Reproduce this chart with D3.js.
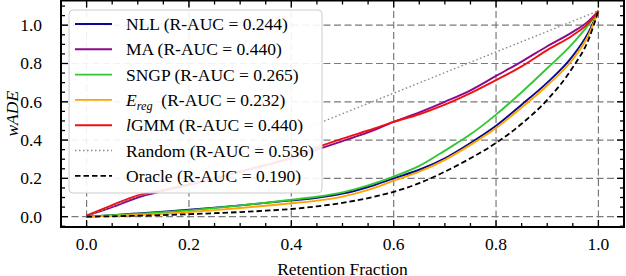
<!DOCTYPE html>
<html><head><meta charset="utf-8">
<script src="https://cdn.jsdelivr.net/npm/d3@7"></script>
</head>
<body style="margin:0;background:#fff">
<svg id="c" width="626" height="276" style="display:block"></svg>
<script>
const retention = [0,0.05,0.1,0.15,0.2,0.25,0.3,0.35,0.4,0.45,0.5,0.55,0.6,0.65,0.7,0.75,0.8,0.85,0.9,0.95,0.98,1.0];
const nll   = [0,0.008,0.017,0.026,0.036,0.047,0.059,0.072,0.085,0.099,0.12,0.155,0.2,0.245,0.305,0.385,0.475,0.585,0.7,0.84,0.96,1.075];
const ma    = [0.005,0.05,0.1,0.135,0.165,0.2,0.235,0.27,0.305,0.35,0.395,0.44,0.495,0.545,0.6,0.66,0.735,0.81,0.89,0.965,1.02,1.075];
const sngp  = [0,0.007,0.015,0.023,0.033,0.045,0.059,0.073,0.088,0.104,0.127,0.163,0.209,0.265,0.345,0.43,0.533,0.65,0.775,0.905,1.0,1.075];
const ereg  = [0,0.004,0.009,0.015,0.024,0.034,0.045,0.057,0.07,0.084,0.105,0.14,0.188,0.235,0.297,0.375,0.463,0.57,0.685,0.822,0.945,1.075];
const lgmm  = [0.005,0.06,0.111,0.14,0.17,0.2,0.235,0.27,0.31,0.362,0.408,0.45,0.495,0.535,0.585,0.645,0.713,0.785,0.87,0.948,1.01,1.075];
const randomX = [0,1];
const randomY = [0,1.075];
const oracle = [0,0.002,0.005,0.008,0.013,0.018,0.024,0.031,0.04,0.054,0.072,0.097,0.13,0.175,0.235,0.305,0.385,0.485,0.61,0.78,0.92,1.075];
const xTicks = [0,0.2,0.4,0.6,0.8,1.0];
const yTicks = [0,0.2,0.4,0.6,0.8,1.0];
const labels = ["NLL (R-AUC = 0.244)","MA (R-AUC = 0.440)","SNGP (R-AUC = 0.265)","E_reg (R-AUC = 0.232)","lGMM (R-AUC = 0.440)","Random (R-AUC = 0.536)","Oracle (R-AUC = 0.190)"];
const colors = ["#0a0a8c","#8b0a8b","#34c734","#ffa500","#f01010","#888888","#000000"];

const FONT = "Liberation Serif";
const svg = d3.select("#c");
const L=61, R=624, T=0.5, B=227;
const x = d3.scaleLinear().domain([-0.05,1.05]).range([L,R]);
const y = d3.scaleLinear().domain([-0.054,1.129]).range([B,T]);
const FS = 17.5;

svg.append("defs").append("clipPath").attr("id","clip").append("rect")
  .attr("x",L).attr("y",T).attr("width",R-L).attr("height",B-T);

const grid = svg.append("g").attr("stroke","#7a7a7a").attr("stroke-width",1.2).attr("stroke-dasharray","7,3.5");
xTicks.forEach(t=>grid.append("line").attr("x1",x(t)).attr("x2",x(t)).attr("y1",T).attr("y2",B));
yTicks.forEach(t=>grid.append("line").attr("y1",y(t)).attr("y2",y(t)).attr("x1",L).attr("x2",R));

const series = [
  {xs:retention, ys:nll, c:colors[0], dash:null, w:1.9},
  {xs:retention, ys:ma, c:colors[1], dash:null, w:1.9},
  {xs:retention, ys:sngp, c:colors[2], dash:null, w:1.9},
  {xs:retention, ys:ereg, c:colors[3], dash:null, w:1.9},
  {xs:retention, ys:lgmm, c:colors[4], dash:null, w:1.9},
  {xs:randomX, ys:randomY, c:colors[5], dash:"1.5,2.5", w:1.4},
  {xs:retention, ys:oracle, c:colors[6], dash:"5.5,3", w:1.8}
];
const line = d3.line().x(d=>x(d[0])).y(d=>y(d[1])).curve(d3.curveMonotoneX);
const pg = svg.append("g").attr("clip-path","url(#clip)");
series.forEach(s=>{
  pg.append("path").datum(s.xs.map((v,i)=>[v,s.ys[i]]))
    .attr("d",line).attr("fill","none").attr("stroke",s.c)
    .attr("stroke-width",s.w).attr("stroke-dasharray",s.dash);
});

const minor = d3.range(-0.05,1.0501,0.05).map(v=>+v.toFixed(2));
const yMinor = d3.range(-0.05,1.1301,0.05).map(v=>+v.toFixed(2)).filter(v=>v>=-0.054&&v<=1.129);
const tk = svg.append("g").attr("stroke","#000").attr("stroke-width",1.3);
minor.forEach(v=>{
  const isMaj = xTicks.some(t=>Math.abs(t-v)<1e-6);
  const len = isMaj?7:4;
  tk.append("line").attr("x1",x(v)).attr("x2",x(v)).attr("y1",B).attr("y2",B-len);
  tk.append("line").attr("x1",x(v)).attr("x2",x(v)).attr("y1",T).attr("y2",T+len);
});
yMinor.forEach(v=>{
  const isMaj = yTicks.some(t=>Math.abs(t-v)<1e-6);
  const len = isMaj?7:4;
  tk.append("line").attr("y1",y(v)).attr("y2",y(v)).attr("x1",L).attr("x2",L+len);
  tk.append("line").attr("y1",y(v)).attr("y2",y(v)).attr("x1",R).attr("x2",R-len);
});
svg.append("rect").attr("x",L).attr("y",T).attr("width",R-L).attr("height",B-T)
  .attr("fill","none").attr("stroke","#000").attr("stroke-width",2);

const fmt = d3.format(".1f");
xTicks.forEach(d=>{
  svg.append("text").attr("font-family",FONT).attr("font-size",FS)
    .attr("x",x(d)).attr("y",249.5).attr("text-anchor","middle").text(fmt(d));
});
yTicks.forEach(d=>{
  svg.append("text").attr("font-family",FONT).attr("font-size",FS)
    .attr("x",42).attr("y",y(d)+6).attr("text-anchor","end").text(fmt(d));
});

svg.append("text").attr("font-family",FONT).attr("font-size",FS)
  .attr("x",x(0.5)).attr("y",274.5).attr("text-anchor","middle").text("Retention Fraction");
svg.append("text").attr("font-family",FONT).attr("font-size",FS).attr("font-style","italic")
  .attr("transform",`translate(18,${(T+B)/2}) rotate(-90)`).attr("text-anchor","middle").text("wADE");

const lg = svg.append("g");
lg.append("rect").attr("x",69).attr("y",10).attr("width",253).attr("height",183).attr("rx",4)
  .attr("fill","#fff").attr("fill-opacity",0.9).attr("stroke","#cccccc").attr("stroke-width",1);
labels.forEach((lab,i)=>{
  const cy = 24 + i*25.3;
  const s = series[i];
  lg.append("line").attr("x1",75).attr("x2",112).attr("y1",cy).attr("y2",cy)
    .attr("stroke",s.c).attr("stroke-width",s.w).attr("stroke-dasharray",s.dash);
  const t = lg.append("text").attr("font-family",FONT).attr("font-size",FS)
    .attr("x",126).attr("y",cy+6);
  if(lab.startsWith("E_reg")){
    t.append("tspan").attr("font-style","italic").text("E");
    t.append("tspan").attr("font-style","italic").attr("font-size",FS*0.7).attr("dy",4).text("reg");
    t.append("tspan").attr("dy",-4).text("\u00a0 " + lab.slice(6));
  } else if(lab.startsWith("lGMM")){
    t.append("tspan").attr("font-style","italic").text("l");
    t.append("tspan").text(lab.slice(1));
  } else t.text(lab);
});
</script></body></html>
